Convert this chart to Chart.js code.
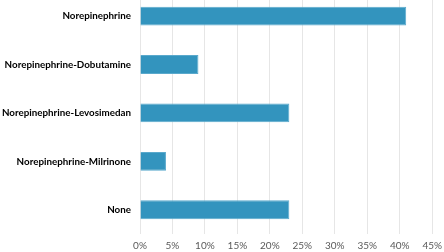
<!DOCTYPE html>
<html>
<head>
<meta charset="utf-8">
<script src="https://cdn.jsdelivr.net/npm/chart.js@4"></script>
<style>
  html, body { margin: 0; padding: 0; background: #fff; overflow: hidden; }
  #wrap { position: absolute; left: 0; top: -23px; width: 448px; height: 281px; }
</style>
</head>
<body>
<div id="wrap"><canvas id="chart"></canvas></div>
<script>
const categories = [
  'Norepinephrine',
  'Norepinephrine-Dobutamine',
  'Norepinephrine-Levosimedan',
  'Norepinephrine-Milrinone',
  'None'
];
const shares = [41, 9, 23, 4, 23];
const tickStep = 5;
const tickMax = 45;

const ctx = document.getElementById('chart').getContext('2d');

new Chart(ctx, {
  type: 'bar',
  data: {
    labels: categories,
    datasets: [{
      data: shares,
      backgroundColor: '#3394be',
      borderColor: '#5aa9cc',
      borderWidth: 1,
      categoryPercentage: 0.72,
      barPercentage: 0.54
    }]
  },
  options: {
    indexAxis: 'y',
    responsive: true,
    maintainAspectRatio: false,
    animation: false,
    layout: { padding: 0 },
    plugins: {
      legend: { display: false },
      tooltip: { enabled: false }
    },
    scales: {
      x: {
        min: 0,
        max: tickMax,
        ticks: {
          stepSize: tickStep,
          padding: 6,
          color: '#595959',
          font: { family: 'Lato', size: 10 },
          callback: v => v + '%'
        },
        grid: { color: '#e6e6e6', drawTicks: false },
        border: { display: false }
      },
      y: {
        afterFit: scale => { scale.width = 140; },
        ticks: {
          padding: 9,
          color: '#000',
          font: { family: 'Lato', size: 9.8, weight: 'bold' }
        },
        grid: { display: false, drawTicks: false },
        border: { display: false }
      }
    }
  }
});
</script>
</body>
</html>
